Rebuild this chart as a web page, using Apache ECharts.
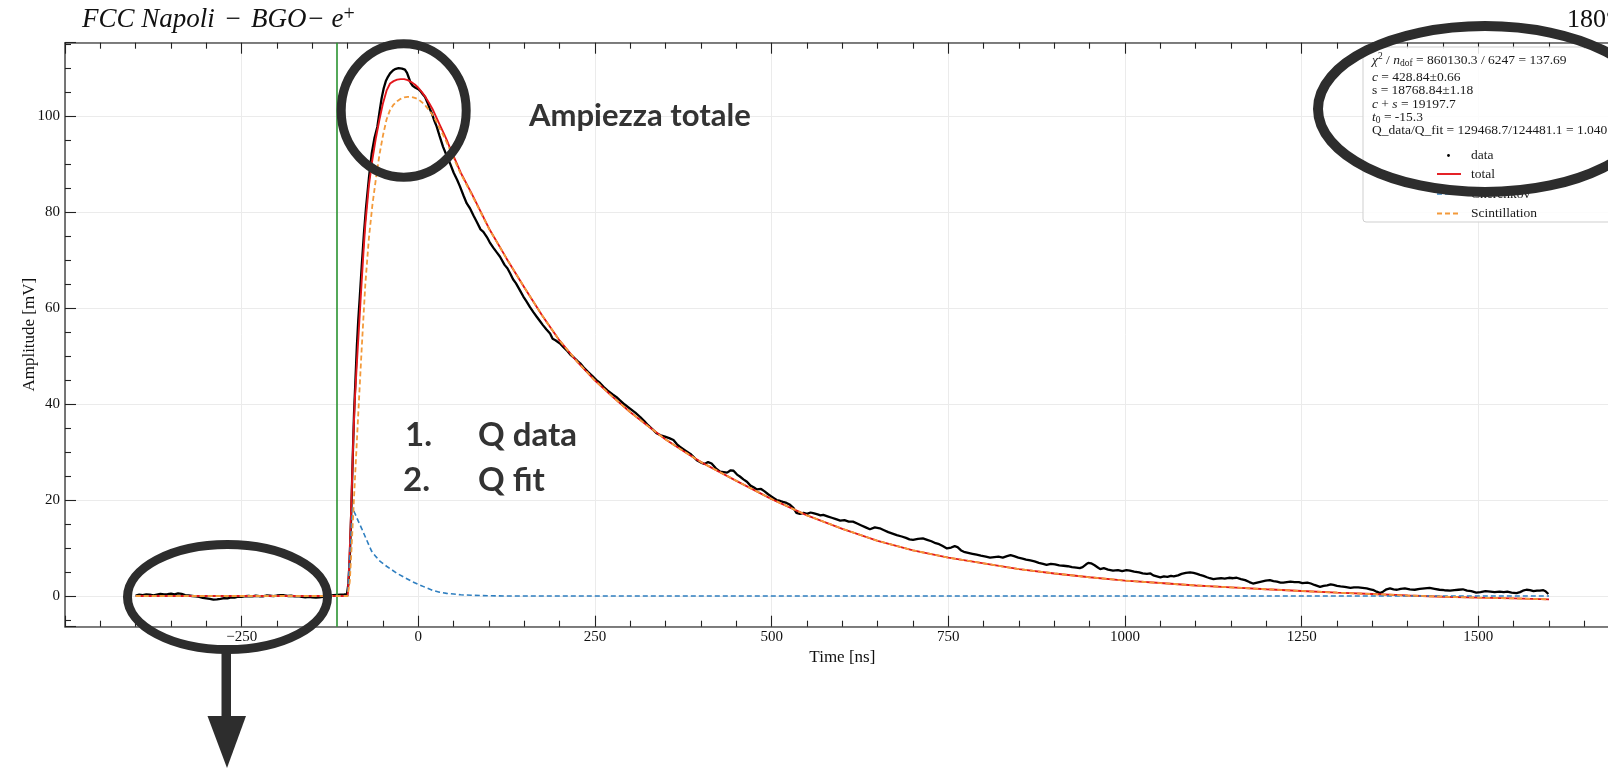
<!DOCTYPE html>
<html>
<head>
<meta charset="utf-8">
<title>FCC Napoli – BGO – e+ waveform fit</title>
<script src="https://cdn.jsdelivr.net/npm/echarts@6/dist/echarts.min.js"></script>
<style>
  html, body { margin: 0; padding: 0; background: #fff; }
  #chart { width: 1608px; height: 768px; }
</style>
</head>
<body>
<div id="chart"></div>
<script>
// ---- measured waveform: [time ns, amplitude mV] ----
const waveform = [
  [-400,0.1],[-395,0.3],[-390,0.2],[-385,0.35],[-380,0.3],[-375,0.15],[-370,0.3],[-365,0.45],[-360,0.35],[-355,0.4],
  [-350,0.5],[-345,0.35],[-340,0.55],[-335,0.45],[-330,0.2],[-325,0.1],[-320,0.0],[-315,-0.1],[-310,-0.2],[-305,-0.4],
  [-300,-0.5],[-295,-0.6],[-290,-0.75],[-285,-0.7],[-280,-0.6],[-275,-0.45],[-270,-0.5],[-265,-0.3],[-260,-0.35],[-255,-0.15],
  [-250,-0.2],[-245,-0.05],[-240,0.0],[-235,-0.1],[-230,0.05],[-225,-0.05],[-220,-0.1],[-215,0.1],[-210,0.05],[-205,-0.05],
  [-200,0.1],[-195,0.2],[-190,0.15],[-185,0.0],[-180,0.05],[-175,-0.1],[-170,-0.05],[-165,-0.2],[-160,-0.3],[-155,-0.2],
  [-150,-0.3],[-145,-0.35],[-140,-0.3],[-135,-0.2],[-130,-0.1],[-125,0.05],[-120,0.2],[-115,0.25],[-110,0.3],[-105,0.35],
  [-101,0.4],[-99,2.5],[-97,8],[-95,17],[-93,28],[-91,38],[-89,45],[-87,52],[-85,57.5],[-83,62],
  [-80,69],[-77,75.5],[-74,81],[-70,87],[-66,92.2],[-62,95.5],[-58,97.8],[-55,100.8],[-52,103.7],[-49,105.8],
  [-46,107.3],[-43,108.2],[-40,108.9],[-36,109.5],[-33,109.8],[-28,110.0],[-23,109.9],[-19,109.7],[-16,109.0],[-14,108.2],
  [-11,107.0],[-8,106.3],[-4,105.9],[0,105.6],[3,105.2],[6,104.6],[9.5,104.0],[13,102.8],[16,101.6],[19,100.6],
  [22,99.3],[26,97.8],[30,95.9],[35,93.6],[40,91.8],[45,90.1],[50,88.2],[55,86.7],[59,85.3],[64,83.4],
  [68.5,81.8],[73,80.8],[78,79.3],[82.6,78.0],[88,76.4],[92,75.9],[97,74.8],[101,73.7],[106,72.6],[111,71.6],
  [115.6,70.7],[122,69.0],[126,68.3],[130,67.2],[134,66.0],[138,65.2],[143,63.9],[148.6,62.4],[153,61.4],[158,60.2],
  [163,59.1],[167.5,58.2],[172,57.3],[176,56.5],[181,55.6],[186.4,54.7],[190,53.6],[194,53.3],[200.5,52.6],[205,51.9],
  [210,51.2],[215,50.3],[220,49.7],[225,49.0],[229,48.5],[234,47.6],[240,46.7],[246,45.9],[252,45.0],[257,44.4],
  [262,43.6],[268,42.8],[275,42.0],[280,41.5],[285,40.8],[292,39.9],[300,39.0],[307,38.2],[314,37.3],[320,36.4],
  [325,35.6],[331,34.8],[337,33.9],[343,33.5],[349,33.2],[355,32.9],[361,32.5],[366,31.6],[370,31.1],[378,30.3],
  [385,29.6],[390,28.9],[394,28.3],[400,27.8],[405,27.5],[410,27.9],[415,27.6],[421,26.6],[427,25.9],[432,25.8],
  [437,25.7],[442,26.2],[446,26.1],[451,25.3],[455,24.9],[460,24.3],[465,23.8],[470,23.0],[475,22.6],[479,22.2],
  [485,22.3],[490,21.8],[495,21.2],[501,20.6],[507,20.0],[512,19.8],[516,19.6],[521,19.4],[526,19.0],[531,18.3],
  [535,17.3],[540,17.1],[545,17.3],[550,17.1],[555,17.4],[560,17.2],[565,17.0],[569,16.8],[573,16.9],[579,16.6],
  [585,16.3],[591,16.0],[597,15.7],[603,15.8],[609,15.5],[615,15.5],[621,15.1],[627,14.7],[633,14.3],[639,13.9],
  [646,14.3],[653,14.1],[659,13.7],[665,13.3],[671,13.0],[677,12.7],[684,12.4],[690,12.1],[695,11.8],[700,11.7],
  [707,11.9],[714,12.0],[720,11.7],[726,11.4],[732,11.0],[737,10.8],[742,10.4],[748,9.9],[754,10.1],[759,10.4],
  [763,10.2],[768,9.5],[772,9.2],[778,9.0],[784,8.8],[790,8.6],[796,8.4],[803,8.2],[809,8.0],[815,8.1],
  [821,8.2],[827,8.0],[833,8.3],[838,8.5],[843,8.3],[849,8.0],[855,7.8],[860,7.6],[866,7.4],[872,7.2],
  [878,6.9],[884,6.7],[889,6.5],[895,6.7],[901,6.6],[907,6.4],[913,6.3],[919,6.2],[925,6.0],[931,5.9],
  [936,5.8],[940,6.0],[945,6.6],[948,6.9],[952,6.8],[957,6.4],[961,6.0],[965,5.6],[970,5.8],[976,5.5],
  [983,5.3],[990,5.4],[996,5.2],[1002,5.4],[1007,5.3],[1013,5.1],[1020,4.9],[1025,4.7],[1031,4.6],[1036,4.7],
  [1040,4.3],[1045,4.1],[1050,3.9],[1055,4.1],[1060,4.0],[1065,4.2],[1069,4.1],[1075,4.3],[1080,4.6],[1086,4.8],
  [1092,4.9],[1097,4.8],[1102,4.6],[1106,4.4],[1111,4.2],[1116,3.9],[1120,3.7],[1125,3.5],[1130,3.6],[1136,3.7],
  [1141,3.6],[1147,3.8],[1153,3.7],[1158,3.8],[1164,3.5],[1170,3.3],[1176,2.9],[1181,2.6],[1187,2.8],[1193,3.0],
  [1199,3.2],[1205,3.3],[1210,3.1],[1215,3.0],[1220,2.8],[1224,2.8],[1229,2.9],[1234,3.0],[1240,2.9],[1246,2.9],
  [1251,2.7],[1258,2.8],[1263,2.6],[1268,2.3],[1272,2.1],[1276,1.9],[1281,2.1],[1286,2.2],[1291,2.4],[1295,2.3],
  [1300,2.1],[1305,2.0],[1311,1.9],[1319,1.7],[1324,1.8],[1330,1.8],[1336,1.7],[1342,1.6],[1347,1.4],[1352,1.2],
  [1356,0.9],[1361,0.6],[1365,0.9],[1370,1.4],[1375,1.6],[1380,1.4],[1385,1.3],[1390,1.5],[1396,1.6],[1403,1.4],
  [1410,1.3],[1417,1.5],[1424,1.6],[1431,1.7],[1438,1.5],[1445,1.3],[1452,1.2],[1460,1.1],[1466,1.2],[1472,1.3],
  [1478,1.4],[1484,1.1],[1490,1.0],[1497,0.7],[1503,0.8],[1510,1.0],[1517,0.9],[1523,0.8],[1530,0.9],[1536,0.8],
  [1541,0.9],[1547,0.7],[1554,0.6],[1559,0.8],[1563,1.1],[1568,1.3],[1573,1.2],[1578,1.0],[1583,1.1],[1587,1.1],
  [1592,1.2],[1595,1.0],[1599,0.4]
];

// ---- fitted components: [time ns, amplitude mV] ----
const cherenkovFit = [
  [-400,0],[-100,0],[-98,5.5],[-96,11],[-94,16.5],[-93,18.4],[-90,17.3],[-85,15.6],[-80,14.0],[-75,12.3],
  [-70,10.6],[-66,9.3],[-60,8.2],[-54,7.2],[-45,6.2],[-40,5.7],[-30,4.7],[-20,3.9],[-10,3.1],[0,2.4],
  [10,1.8],[20,1.2],[30,0.8],[40,0.55],[50,0.4],[60,0.25],[75,0.15],[100,0.05],[125,0],[200,0],
  [400,0],[800,0],[1200,0],[1600,0]
];

const scintillationFit = [
  [-400,0],[-100,0],[-97,3],[-95,8.5],[-90,23.5],[-85,38],[-80,52],[-75,65],[-70,74.5],[-65,81.5],
  [-60,87],[-55,92],[-50,96],[-45,99.3],[-40,101.3],[-35,102.4],[-30,103.1],[-25,103.6],[-20,103.9],[-15,104.0],
  [-10,104.0],[-5,103.8],[0,103.5],[5,102.9],[10,102.2],[15,101.3],[20,100.3],[25,99.0],[30,97.5],[35,96.1],
  [40,94.6],[45,92.9],[50,91.2],[60,88.0],[75,83.8],[100,76.5],[125,70.3],[150,64.3],[175,58.5],[200,53.2],
  [225,48.8],[250,44.9],[275,41.5],[300,38.3],[325,35.4],[350,32.6],[375,30.2],[400,27.9],[450,24.0],[500,20.2],
  [550,16.8],[600,14.0],[650,11.5],[700,9.5],[750,8.0],[800,6.8],[850,5.6],[900,4.7],[950,3.9],[1000,3.2],
  [1050,2.7],[1100,2.2],[1150,1.8],[1200,1.4],[1250,1.05],[1300,0.7],[1350,0.4],[1400,0.1],[1450,-0.15],[1500,-0.35],
  [1550,-0.5],[1600,-0.7]
];

const totalFit = [
  [-400,0],[-100,0],[-98,6],[-96,14],[-94,23],[-92,33],[-90,40.5],[-87,48.5],[-84,56],[-80,66],
  [-77.5,72],[-75,77.5],[-70,85.5],[-65,91.0],[-60,95.5],[-55,99.3],[-50,102.7],[-45,105.3],[-40,106.8],[-35,107.3],
  [-30,107.6],[-25,107.7],[-20,107.7],[-15,107.5],[-10,107.1],[-5,106.6],[0,105.9],[5,105.0],[10,104.0],[15,102.8],
  [20,101.5],[25,99.9],[30,98.3],[35,96.7],[40,95.1],[45,93.3],[50,91.6],[60,88.2],[75,84.0],[100,76.6],
  [125,70.3],[150,64.3],[175,58.5],[200,53.2],[225,48.8],[250,44.9],[275,41.5],[300,38.3],[325,35.4],[350,32.6],
  [375,30.2],[400,27.9],[450,24.0],[500,20.2],[550,16.8],[600,14.0],[650,11.5],[700,9.5],[750,8.0],[800,6.8],
  [850,5.6],[900,4.7],[950,3.9],[1000,3.2],[1050,2.7],[1100,2.2],[1150,1.8],[1200,1.4],[1250,1.05],[1300,0.7],
  [1350,0.4],[1400,0.1],[1450,-0.15],[1500,-0.35],[1550,-0.5],[1600,-0.7]
];

// integration window start (ns)
const triggerTime = -115;

// axis ranges
const timeRange = [-500, 1700];
const timeStep = 250;
const ampRange = [-6.4, 115.3];
const ampStep = 20;

// fit summary values
const fitStats = {
  chi2: '860130.3', ndof: '6247', chi2ndof: '137.69',
  c: '428.84±0.66', s: '18768.84±1.18', cs: '19197.7', t0: '-15.3',
  qRatio: '129468.7/124481.1 = 1.040'
};

const SERIF = '"Liberation Serif", "DejaVu Serif", serif';
const SANS = 'Lato, "Open Sans", sans-serif';
const INK = '#2d2d2d';
const TXT = '#1a1a1a';
const FS = 13.5;

const minusFmt = v => (v < 0 ? '\u2212' + Math.abs(v) : String(v));

const chart = echarts.init(document.getElementById('chart'), null, { renderer: 'canvas' });

const tickStyle = { color: '#222', width: 1.1 };

// one line of the fit summary box
function statLine(y, text, rich) {
  return {
    type: 'text', x: 1372, y: y, z: 101,
    style: {
      text: text, verticalAlign: 'middle', fill: TXT,
      fontFamily: SERIF, fontSize: FS,
      rich: rich || {}
    }
  };
}
const RI = { fontFamily: SERIF, fontStyle: 'italic', fontSize: FS, lineHeight: 17, verticalAlign: 'middle' };
const RR = { fontFamily: SERIF, fontSize: FS, lineHeight: 17, verticalAlign: 'middle' };
const RSUP = { fontFamily: SERIF, fontSize: 9.5, lineHeight: 9, verticalAlign: 'top' };
const RSUB = { fontFamily: SERIF, fontSize: 9.5, lineHeight: 9, verticalAlign: 'bottom' };

function legendText(y, text) {
  return { type: 'text', x: 1471, y: y, z: 101, style: { text: text, fontFamily: SERIF, fontSize: FS, fill: TXT, verticalAlign: 'middle' } };
}

const option = {
  animation: false,
  backgroundColor: '#fff',
  grid: {
    left: 65, right: -11.7, top: 42.7, bottom: 141.3,
    containLabel: false, outerBoundsMode: 'none'
  },
  xAxis: [
    {
      type: 'value', position: 'bottom',
      min: timeRange[0], max: timeRange[1], interval: timeStep,
      axisLine: { show: true, onZero: false, lineStyle: { color: '#555', width: 1.6 } },
      axisTick: { show: true, inside: true, length: 11, lineStyle: tickStyle },
      minorTick: { show: true, splitNumber: 5, length: 6, lineStyle: tickStyle },
      axisLabel: {
        showMinLabel: false, showMaxLabel: false, margin: 3,
        fontFamily: SERIF, fontSize: 15, color: '#111', formatter: minusFmt
      },
      splitLine: { show: true, lineStyle: { color: '#ebebeb', width: 1 } },
      name: 'Time [ns]', nameLocation: 'middle', nameGap: 22, nameMoveOverlap: false,
      nameTextStyle: { fontFamily: SERIF, fontSize: 17, color: '#111' }
    },
    {
      type: 'value', position: 'top',
      min: timeRange[0], max: timeRange[1], interval: timeStep,
      axisLine: { show: true, onZero: false, lineStyle: { color: '#555', width: 1.6 } },
      axisTick: { show: true, inside: true, length: 11, lineStyle: tickStyle },
      minorTick: { show: true, splitNumber: 5, length: 6, lineStyle: tickStyle },
      axisLabel: { show: false },
      splitLine: { show: false }
    }
  ],
  yAxis: [
    {
      type: 'value', position: 'left',
      min: ampRange[0], max: ampRange[1],
      splitNumber: 6, minInterval: ampStep, maxInterval: ampStep,
      axisLine: { show: true, onZero: false, lineStyle: { color: '#555', width: 1.6 } },
      axisTick: { show: true, inside: true, length: 11, lineStyle: tickStyle },
      minorTick: { show: true, splitNumber: 4, length: 6, lineStyle: tickStyle },
      axisLabel: {
        showMinLabel: false, showMaxLabel: false, margin: 5,
        fontFamily: SERIF, fontSize: 15, color: '#111', formatter: minusFmt
      },
      splitLine: { show: true, lineStyle: { color: '#ebebeb', width: 1 } },
      name: 'Amplitude [mV]', nameLocation: 'middle', nameGap: 27, nameMoveOverlap: false,
      nameTextStyle: { fontFamily: SERIF, fontSize: 17, color: '#111' }
    }
  ],
  series: [
    {
      name: 'data', type: 'line', data: waveform,
      symbol: 'none', z: 2,
      lineStyle: { color: '#000', width: 2.3 },
      markLine: {
        silent: true, symbol: ['none', 'none'],
        label: { show: false },
        lineStyle: { color: '#2a9330', width: 1.6, type: 'solid' },
        data: [{ xAxis: triggerTime }]
      }
    },
    {
      name: 'total', type: 'line', data: totalFit,
      symbol: 'none', z: 3,
      lineStyle: { color: '#e3171c', width: 1.9 }
    },
    {
      name: 'Cherenkov', type: 'line', data: cherenkovFit,
      symbol: 'none', z: 4,
      lineStyle: { color: '#2f7fc0', width: 1.6, type: [5, 3] }
    },
    {
      name: 'Scintillation', type: 'line', data: scintillationFit,
      symbol: 'none', z: 5,
      lineStyle: { color: '#f39a3a', width: 1.8, type: [5, 3] }
    }
  ],
  graphic: [
    // titles above the frame
    {
      type: 'text', x: 82, y: 20, z: 100,
      style: {
        text: '{a|FCC Napoli\u2004\u2212\u2004BGO\u2212 e}{s|+}',
        verticalAlign: 'middle', fill: '#111',
        rich: {
          a: { fontFamily: SERIF, fontStyle: 'italic', fontSize: 27, lineHeight: 30, verticalAlign: 'middle' },
          s: { fontFamily: SERIF, fontSize: 20, lineHeight: 30, verticalAlign: 'top' }
        }
      }
    },
    {
      type: 'text', x: 1567, y: 20, z: 100,
      style: { text: '180\u00b0', fontFamily: SERIF, fontSize: 26, fill: '#111', verticalAlign: 'middle' }
    },
    // fit summary box
    {
      type: 'rect', z: 100,
      shape: { x: 1363, y: 47, width: 300, height: 175, r: 3 },
      style: { fill: 'rgba(255,255,255,0.85)', stroke: '#cfcfcf', lineWidth: 1 }
    },
    statLine(60, '{i|\u03c7}{sup|2}{r| / }{i|n}{sub|dof}{r| = ' + fitStats.chi2 + ' / ' + fitStats.ndof + ' = ' + fitStats.chi2ndof + '}',
      { i: RI, r: RR, sup: RSUP, sub: RSUB }),
    statLine(77, '{i|c}{r| = ' + fitStats.c + '}', { i: RI, r: RR }),
    statLine(90.5, '{r|s = ' + fitStats.s + '}', { r: RR }),
    statLine(104, '{i|c}{r| + }{i|s}{r| = ' + fitStats.cs + '}', { i: RI, r: RR }),
    statLine(117, '{i|t}{sub|0}{r| = ' + fitStats.t0 + '}', { i: RI, r: RR, sub: RSUB }),
    statLine(130.5, 'Q_data/Q_fit = ' + fitStats.qRatio, null),
    // legend entries
    { type: 'circle', z: 101, shape: { cx: 1448.5, cy: 155.5, r: 1.4 }, style: { fill: '#000' } },
    legendText(155.5, 'data'),
    { type: 'line', z: 101, shape: { x1: 1437, y1: 174, x2: 1461, y2: 174 }, style: { stroke: '#e3171c', lineWidth: 1.9 } },
    legendText(174, 'total'),
    { type: 'line', z: 101, shape: { x1: 1437, y1: 194, x2: 1461, y2: 194 }, style: { stroke: '#2f7fc0', lineWidth: 1.6, lineDash: [5, 3] } },
    legendText(194, 'Cherenkov'),
    { type: 'line', z: 101, shape: { x1: 1437, y1: 213.5, x2: 1461, y2: 213.5 }, style: { stroke: '#f39a3a', lineWidth: 1.8, lineDash: [5, 3] } },
    legendText(213.5, 'Scintillation'),

    // hand-drawn highlight marks
    {
      type: 'ellipse', z: 110,
      shape: { cx: 1485, cy: 109, rx: 167, ry: 83 },
      style: { fill: 'none', stroke: INK, lineWidth: 10 }
    },
    {
      type: 'ellipse', z: 110,
      shape: { cx: 403.7, cy: 110.5, rx: 62.5, ry: 66.7 },
      style: { fill: 'none', stroke: INK, lineWidth: 9 }
    },
    {
      type: 'ellipse', z: 110,
      shape: { cx: 227.5, cy: 597, rx: 100, ry: 52.5 },
      style: { fill: 'none', stroke: INK, lineWidth: 9 }
    },
    {
      type: 'rect', z: 110,
      shape: { x: 221.5, y: 650, width: 9.5, height: 68 },
      style: { fill: INK }
    },
    {
      type: 'polygon', z: 110,
      shape: { points: [[207.5, 716], [246, 716], [227, 768]] },
      style: { fill: INK }
    },
    {
      type: 'text', x: 529, y: 116, z: 110,
      style: { text: 'Ampiezza totale', fontFamily: SANS, fontWeight: 'bold', fontSize: 31, fill: '#333', verticalAlign: 'middle' }
    },
    {
      type: 'text', x: 405, y: 435, z: 110,
      style: { text: '1.', fontFamily: SANS, fontWeight: 'bold', fontSize: 33, fill: '#333', verticalAlign: 'middle' }
    },
    {
      type: 'text', x: 478, y: 435, z: 110,
      style: { text: 'Q data', fontFamily: SANS, fontWeight: 'bold', fontSize: 33, fill: '#333', verticalAlign: 'middle' }
    },
    {
      type: 'text', x: 403, y: 480, z: 110,
      style: { text: '2.', fontFamily: SANS, fontWeight: 'bold', fontSize: 33, fill: '#333', verticalAlign: 'middle' }
    },
    {
      type: 'text', x: 478, y: 480, z: 110,
      style: { text: 'Q fit', fontFamily: SANS, fontWeight: 'bold', fontSize: 33, fill: '#333', verticalAlign: 'middle' }
    }
  ]
};

chart.setOption(option);
</script>
</body>
</html>
